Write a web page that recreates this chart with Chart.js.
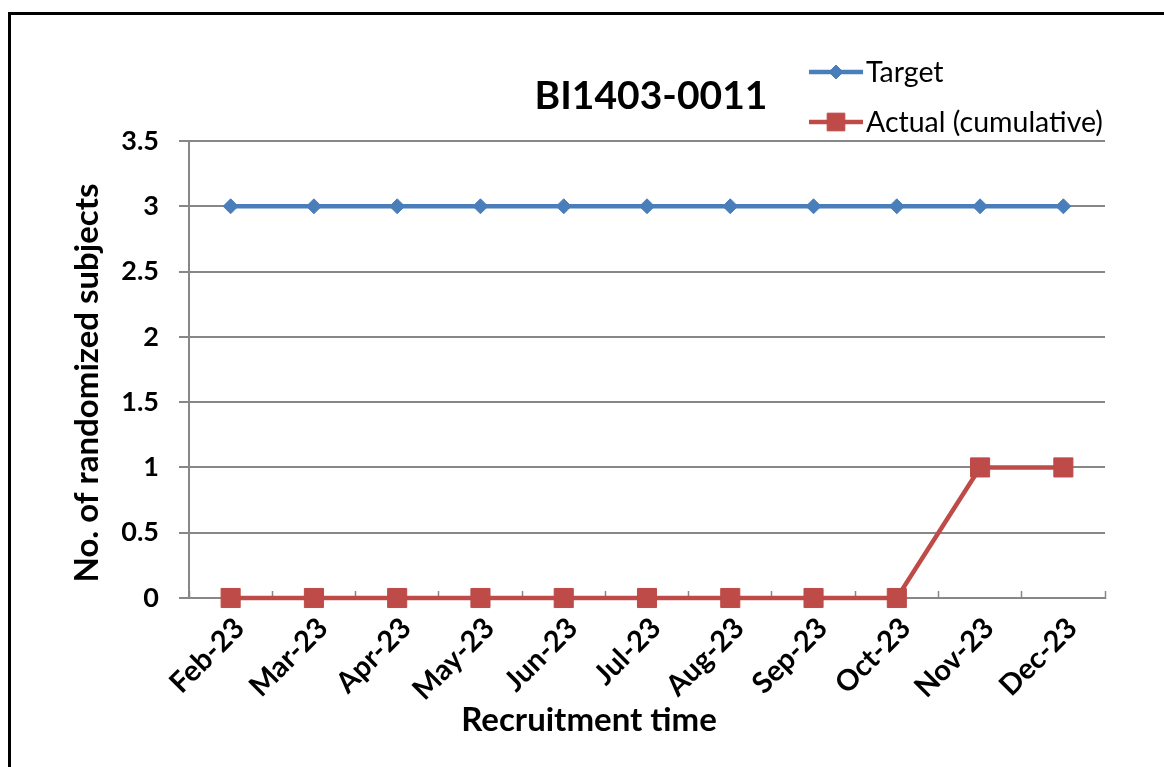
<!DOCTYPE html>
<html>
<head>
<meta charset="utf-8">
<script src="https://cdn.jsdelivr.net/npm/chart.js@4/dist/chart.umd.min.js"></script>
<style>
  html, body { margin: 0; padding: 0; background: #fff; overflow: hidden; }
  #wrap { position: relative; width: 1164px; height: 767px; }
  #frame { position: absolute; left: 8px; top: 12px; width: 1200px; height: 800px;
           border: 3px solid #000; box-sizing: border-box; pointer-events: none; }
  canvas { position: absolute; left: 0; top: 0; }
</style>
</head>
<body>
<div id="wrap">
  <canvas id="c" width="1164" height="767"></canvas>
  <div id="frame"></div>
</div>
<script>
// Recruitment tracking data
const categories = ['Feb-23', 'Mar-23', 'Apr-23', 'May-23', 'Jun-23', 'Jul-23',
                    'Aug-23', 'Sep-23', 'Oct-23', 'Nov-23', 'Dec-23'];
const targetValues = [3, 3, 3, 3, 3, 3, 3, 3, 3, 3, 3];
const actualValues = [0, 0, 0, 0, 0, 0, 0, 0, 0, 1, 1];
const yTicks = [0, 0.5, 1, 1.5, 2, 2.5, 3, 3.5];
const seriesNames = ['Target', 'Actual (cumulative)'];
const chartTitle = 'BI1403-0011';
const xAxisTitle = 'Recruitment time';
const yAxisTitle = 'No. of randomized subjects';

const FONT = 'Lato, "Open Sans", sans-serif';
const GRID = '#878787';
const BLUE = '#4a7ebb';
const RED = '#be4b48';

// Title, axis titles and the line+marker legend
const decorations = {
  id: 'decorations',
  afterDraw(chart) {
    const ctx = chart.ctx;
    ctx.save();
    ctx.fillStyle = '#000';

    ctx.font = 'bold 39px ' + FONT;
    ctx.textAlign = 'center';
    ctx.textBaseline = 'alphabetic';
    ctx.fillText(chartTitle, 651, 109);

    ctx.font = 'bold 33px ' + FONT;
    ctx.fillText(xAxisTitle, 589, 731);

    ctx.save();
    ctx.translate(98, 383);
    ctx.rotate(-Math.PI / 2);
    ctx.fillText(yAxisTitle, 0, 0);
    ctx.restore();

    const rows = [72, 122];
    chart.data.datasets.forEach((ds, i) => {
      const y = rows[i];
      ctx.strokeStyle = ds.borderColor;
      ctx.lineWidth = ds.borderWidth;
      ctx.beginPath();
      ctx.moveTo(809, y);
      ctx.lineTo(863, y);
      ctx.stroke();
      ctx.fillStyle = ds.pointBackgroundColor;
      ctx.strokeStyle = ds.pointBorderColor;
      ctx.lineWidth = 1;
      Chart.helpers.drawPoint(ctx, {
        pointStyle: ds.pointStyle,
        radius: ds.legendRadius,
        rotation: 0,
        borderWidth: 1
      }, 836, y);
      ctx.fillStyle = '#000';
      ctx.font = '28.5px ' + FONT;
      ctx.textAlign = 'left';
      ctx.textBaseline = 'middle';
      ctx.fillText(ds.label, 866, y + 1);
    });
    ctx.restore();
  }
};

new Chart(document.getElementById('c'), {
  type: 'line',
  data: {
    labels: categories,
    datasets: [
      {
        label: seriesNames[0],
        data: targetValues,
        borderColor: BLUE,
        borderWidth: 4.5,
        pointStyle: 'rectRot',
        pointRadius: 7.5,
        legendRadius: 7,
        pointBackgroundColor: BLUE,
        pointBorderColor: BLUE,
        pointBorderWidth: 1,
        tension: 0,
        clip: false
      },
      {
        label: seriesNames[1],
        data: actualValues,
        borderColor: RED,
        borderWidth: 4.5,
        pointStyle: 'rect',
        pointRadius: 13.5,
        legendRadius: 12.5,
        pointBackgroundColor: RED,
        pointBorderColor: RED,
        pointBorderWidth: 1,
        tension: 0,
        clip: false
      }
    ]
  },
  options: {
    responsive: false,
    animation: false,
    layout: { padding: { top: 141, right: 59, left: 0, bottom: 0 } },
    plugins: {
      legend: { display: false },
      title: { display: false },
      tooltip: { enabled: false }
    },
    scales: {
      x: {
        offset: true,
        afterFit: s => { s.height = 169; },
        grid: {
          drawOnChartArea: false,
          drawTicks: true,
          tickLength: -7,
          color: GRID,
          tickWidth: 1.5,
          offset: true
        },
        border: { display: true, color: GRID, width: 2 },
        ticks: {
          color: '#000',
          font: { family: FONT, size: 29, weight: 'bold' },
          minRotation: 45,
          maxRotation: 45,
          padding: 20,
          labelOffset: 9,
          autoSkip: false
        }
      },
      y: {
        min: 0,
        max: 3.5,
        afterFit: s => { s.width = 189; },
        afterBuildTicks: s => { s.ticks = yTicks.map(v => ({ value: v })); },
        grid: {
          color: GRID,
          lineWidth: 2,
          drawTicks: true,
          tickLength: 10
        },
        border: { display: true, color: GRID, width: 2 },
        ticks: {
          color: '#000',
          padding: 20,
          font: { family: FONT, size: 27, weight: 'bold' },
          callback: v => String(v)
        }
      }
    }
  },
  plugins: [decorations]
});
</script>
</body>
</html>
